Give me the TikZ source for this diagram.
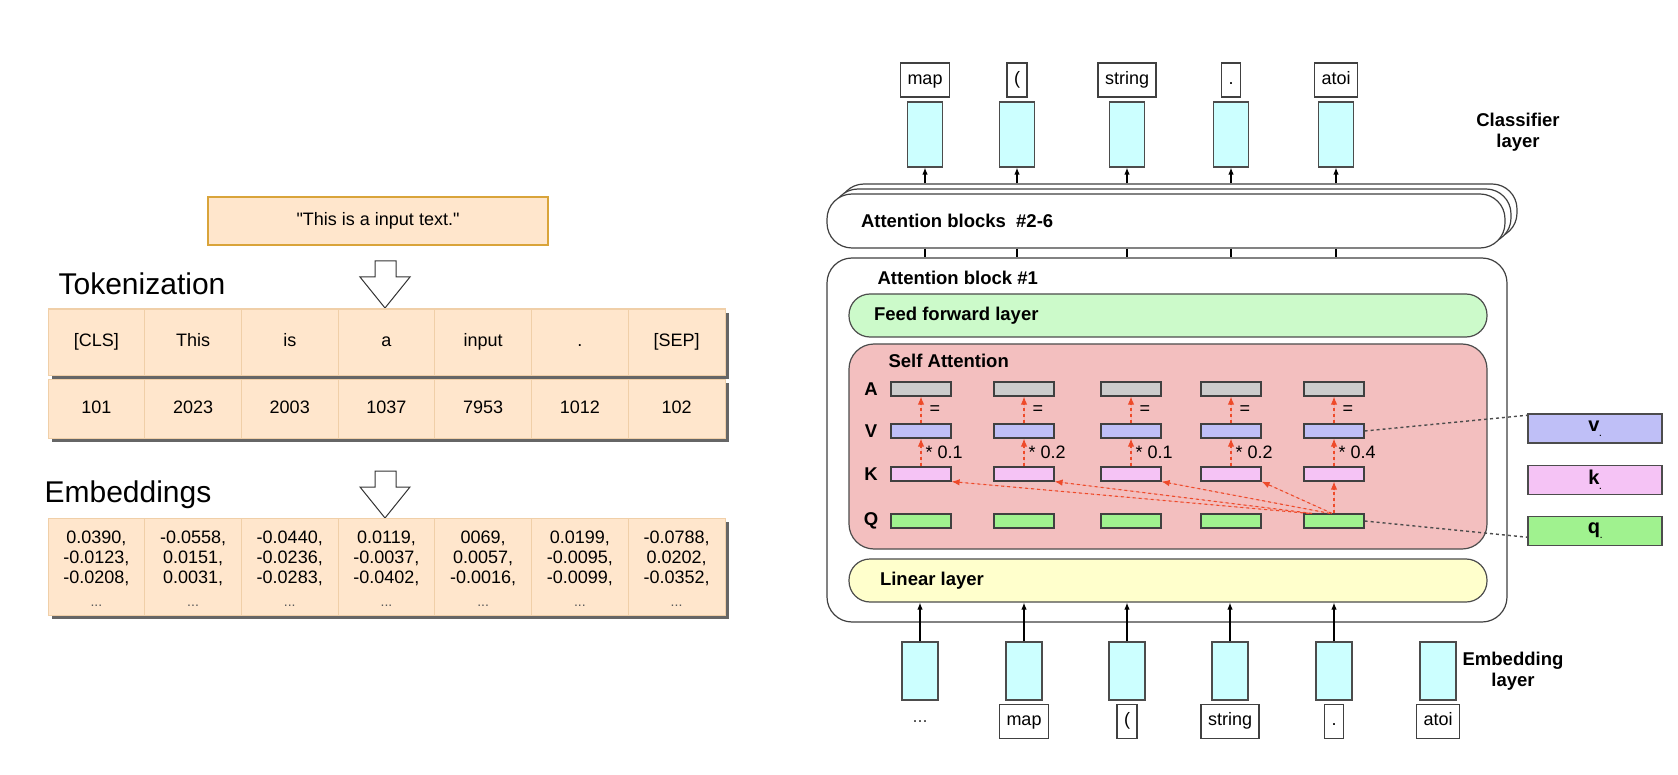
\documentclass[tikz,border=0pt]{standalone}
\usepackage{fontspec}
\setmainfont{Liberation Sans}
\usetikzlibrary{shapes,arrows,arrows.meta,positioning,calc,shadows}
\definecolor{peach}{HTML}{FFE6CC}
\definecolor{inputline}{HTML}{D9A43A}
\definecolor{cellline}{HTML}{F0CFA8}
\definecolor{cyanfill}{HTML}{CCFFFF}
\definecolor{ffgreen}{HTML}{CCFACA}
\definecolor{sared}{HTML}{F3BFBF}
\definecolor{linyellow}{HTML}{FFFFCC}
\definecolor{agray}{HTML}{CCCCCC}
\definecolor{vblue}{HTML}{BFBFF7}
\definecolor{kpink}{HTML}{F5C3F5}
\definecolor{qgreen}{HTML}{A0F28F}
\definecolor{attnred}{HTML}{EE4A2A}
\newcommand{\fsz}[2]{\fontsize{#1}{#2}\selectfont}
\newcommand{\subdot}[1]{#1\raisebox{-5pt}{\fsz{8}{8}.}}

\begin{document}
\begin{tikzpicture}[x=1pt, y=-1pt, >={Latex[length=7pt,width=5.5pt]}, line width=1.2pt,
  every node/.style={font=\fsz{18}{20}},
  ttl/.style={font=\fsz{30}{34}, anchor=west, inner sep=0pt},
  peachbox/.style={draw=inputline, fill=peach, line width=1.5pt, minimum width=340pt, minimum height=48pt},
  row/.style={draw=cellline, fill=peach, line width=1pt, minimum width=677pt, inner sep=0pt,
    drop shadow={shadow xshift=4pt, shadow yshift=-4pt, fill=black!60, opacity=1}},
  cell/.style={draw=cellline, line width=0.8pt, minimum width=96.7pt, inner sep=0pt, text height=13pt, text depth=4pt},
  hollow/.style={draw=black!80, fill=white, line width=1pt},
  tok/.style={draw=black!75, fill=white, minimum height=34pt, inner xsep=7pt, inner ysep=0pt, text height=13pt, text depth=4pt},
  emb/.style={draw=black!70, fill=cyanfill, minimum width=35pt, inner sep=0pt},
  blk/.style={draw=black!75, fill=white, rounded corners=25pt, inner sep=0pt},
  layer/.style={draw=black!70, minimum width=638pt, minimum height=43pt, rounded corners=21pt, inner sep=0pt},
  bold/.style={font=\bfseries\fsz{18.5}{21}, inner sep=0pt},
  vecbox/.style={draw=black!75, minimum width=60pt, minimum height=14pt, inner sep=0pt},
  attn/.style={-{Latex[length=8pt,width=6.5pt]}, draw=attnred, fill=attnred, dashed, line width=1.1pt},
  side/.style={draw=black!70, line width=1.5pt, minimum width=134pt, minimum height=29pt, inner sep=0pt, font=\bfseries\fsz{20}{22}}]
  \useasboundingbox (0,0) rectangle (1678,775);

  % input text and tokenization
  \node[peachbox] (input) at (378,221) {\textquotedbl This is a input text.\textquotedbl};
  \node[ttl] (toktitle) at (58,284) {Tokenization};
  \coordinate (arr1) at (385,308);
  \draw[hollow] (arr1) -- ++(-25,-31) -- ++(15,0) -- ++(0,-16) -- ++(21,0) -- ++(0,16) -- ++(14,0) -- cycle;
  \node[row, minimum height=66pt] (tokrow) at (386.5,342) {};
  \foreach \t [count=\i] in {{[CLS]},This,is,a,input,{.},{[SEP]}}
    \node[cell, minimum height=66pt] (tok\i) at ({96.35+96.7*(\i-1)},342) {\t};
  \node[row, minimum height=59pt] (idrow) at (386.5,408.5) {};
  \foreach \t [count=\i] in {101,2023,2003,1037,7953,1012,102}
    \node[cell, minimum height=59pt] (id\i) at ({96.35+96.7*(\i-1)},408.5) {\t};

  % embeddings
  \node[ttl] (embtitle) at (44,495) {Embeddings};
  \coordinate (arr2) at (385,518);
  \draw[hollow] (arr2) -- ++(-25,-31) -- ++(15,0) -- ++(0,-16) -- ++(21,0) -- ++(0,16) -- ++(14,0) -- cycle;
  \node[row, minimum height=97pt] (vecrow) at (386.5,566.5) {};
  \foreach \a/\b/\c [count=\i] in {0.0390/-0.0123/-0.0208, -0.0558/0.0151/0.0031, -0.0440/-0.0236/-0.0283,
      0.0119/-0.0037/-0.0402, 0069/0.0057/-0.0016, 0.0199/-0.0095/-0.0099, -0.0788/0.0202/-0.0352} {
    \node[cell, minimum height=97pt, text height=, text depth=] (vec\i) at ({96.35+96.7*(\i-1)},566.5) {};
    \node[align=center, inner sep=0pt] (num\i) at ({96.35+96.7*(\i-1)},558) {\a,\\\b,\\\c,};
    \node[font=\fsz{14}{14}, text=black!65, inner sep=0pt] (more\i) at ({96.35+96.7*(\i-1)},606) {...};
  }

  % attention blocks #2-6
  \node[blk, minimum width=678pt, minimum height=54pt] (blkc) at (1178,211) {};
  \node[blk, minimum width=678pt, minimum height=54pt] (blkb) at (1172,216) {};
  \node[blk, minimum width=678pt, minimum height=54pt] (blk) at (1166,221) {};
  \node[bold, anchor=west] (blktxt) at ([xshift=34pt]blk.west) {Attention blocks\ \ \#2-6};

  % attention block #1
  \node[blk, minimum width=680pt, minimum height=364pt] (blk1) at (1167,440) {};
  \node[bold, anchor=west] (blk1txt) at (877,278) {Attention block \#1};
  \node[layer, fill=ffgreen] (ff) at (1168,315.5) {};
  \node[bold, anchor=west] (fftxt) at ([xshift=25pt]ff.west) {Feed forward layer};
  \node[layer, fill=sared, minimum height=205pt, rounded corners=25pt] (sa) at (1168,446.5) {};
  \node[bold, anchor=west] (satxt) at (888,361) {Self Attention};
  \node[layer, fill=linyellow] (lin) at (1168,580.5) {};
  \node[bold, anchor=west] (lintxt) at ([xshift=31pt]lin.west) {Linear layer};

  % A, V, K, Q rows
  \foreach \r/\y in {A/389,V/431,K/474,Q/521}
    \node[bold] (lbl\r) at (871,\y) {\r};
  \foreach \x/\w [count=\i] in {921/0.1,1024/0.2,1131/0.1,1231/0.2,1334/0.4} {
    \node[vecbox, fill=agray] (a\i) at (\x,389) {};
    \node[vecbox, fill=vblue] (v\i) at (\x,431) {};
    \node[vecbox, fill=kpink] (k\i) at (\x,474) {};
    \node[vecbox, fill=qgreen] (q\i) at (\x,521) {};
    \draw[attn] (v\i) -- (a\i) node[midway, right=8pt, inner sep=0pt] {=};
    \draw[attn] (k\i) -- (v\i) node[midway, right=4pt, inner sep=0pt] {* \w};
  }
  \draw[attn] ([xshift=-25pt]q5.north) -- (k1.south east);
  \draw[attn] ([xshift=-22pt]q5.north) -- (k2.south east);
  \draw[attn] ([xshift=-4pt]q5.north) -- (k3.south east);
  \draw[attn] ([xshift=-2pt]q5.north) -- (k4.south east);
  \draw[attn] (q5) -- (k5);

  % v, k, q
  \node[side, fill=vblue] (vv) at (1595,428.5) {\subdot{v}};
  \node[side, fill=kpink] (kk) at (1595,480) {\subdot{k}};
  \node[side, fill=qgreen] (qq) at (1595,531) {\subdot{q}};
  \draw[dashed, draw=black!70, line width=1.4pt] (v5.east) -- ([yshift=-2pt]vv.north west);
  \draw[dashed, draw=black!70, line width=1.4pt] (q5.east) -- ([yshift=9pt]qq.south west);

  % classifier layer
  \foreach \x/\t [count=\i] in {925/map,1017/{(},1127/string,1231/{.},1336/atoi} {
    \node[emb, minimum height=65pt] (cls\i) at (\x,134.5) {};
    \node[tok] (out\i) at (\x,80) {\t};
    \draw[->] (cls\i.south |- blkc.north) -- (cls\i.south);
    \draw (cls\i.south |- blk.south) -- (cls\i.south |- blk1.north);
  }
  \node[bold, align=center] (clslbl) at (1518,132) {Classifier\\layer};

  % embedding layer
  \foreach \x [count=\i] in {920,1024,1127,1230,1334,1438}
    \node[emb, minimum width=36pt, minimum height=58pt] (in\i) at (\x,671) {};
  \foreach \i in {1,...,5}
    \draw[->] (in\i) -- (in\i |- lin.south);
  \foreach \t [count=\i from 2] in {map,{(},string,{.},atoi}
    \node[tok, below=3pt of in\i] (word\i) {\t};
  \node[text=black!75] (word1) at (920,722) {...};
  \node[bold, align=center] (emblbl) at (1513,671) {Embedding\\layer};
\end{tikzpicture}
\end{document}
